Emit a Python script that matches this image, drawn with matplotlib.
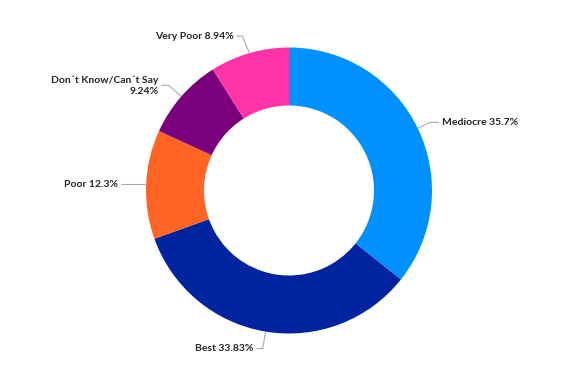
import matplotlib
matplotlib.use("Agg")
import matplotlib.pyplot as plt
import numpy as np

categories = ["Mediocre", "Best", "Poor", "Don't Know/Can't Say", "Very Poor"]
values = [35.7, 33.83, 12.3, 9.24, 8.94]
labels = ["Mediocre 35.7%", "Best 33.83%", "Poor 12.3%", "Don\u00b4t Know/Can\u00b4t Say\n9.24%", "Very Poor 8.94%"]
colors = ["#0091FF", "#00239F", "#FF6424", "#7B007B", "#FF33A8"]

W, H = 575, 376
fig = plt.figure(figsize=(W / 100, H / 100), dpi=100)
ax = fig.add_axes([0, 0, 1, 1])

cx, cy, R = 289, H - 190.5, 143
wedges, _ = ax.pie(values, colors=colors, startangle=90, counterclock=False,
                   center=(cx, cy), radius=R, frame=True,
                   wedgeprops=dict(width=58, linewidth=0))
ax.set_xlim(0, W)
ax.set_ylim(0, H)
ax.set_aspect("equal")
ax.axis("off")

# label layout: elbow offset from edge point (dx, dy), horizontal length, side
layout = {
    0: dict(elbow=(12, 6), hlen=9, side=1),
    1: dict(elbow=(-3, -17), hlen=6, side=-1),
    2: dict(elbow=(-2, 0), hlen=23, side=-1),
    3: dict(elbow=(-13, 11), hlen=7, side=-1),
    4: dict(elbow=(-7, 17), hlen=6, side=-1),
}

total = sum(values)
cum = 0
for i, (v, lab) in enumerate(zip(values, labels)):
    mid = (cum + v / 2) / total
    cum += v
    theta = np.deg2rad(90 - mid * 360)
    ex, ey = cx + R * np.cos(theta), cy + R * np.sin(theta)
    lo = layout[i]
    bx, by = ex + lo["elbow"][0], ey + lo["elbow"][1]
    tx = bx + lo["side"] * lo["hlen"]
    ax.plot([ex, bx, tx], [ey, by, by], color="#AAAAAA", lw=0.8, solid_capstyle="butt")
    ha = "left" if lo["side"] > 0 else "right"
    ax.text(tx + lo["side"] * 3, by, lab, ha=ha, va="center", fontsize=7.5,
            fontfamily="Lato", fontweight="bold", color="#252423",
            multialignment="right", linespacing=1.3)

fig.savefig("out.png", dpi=100, facecolor="white")
